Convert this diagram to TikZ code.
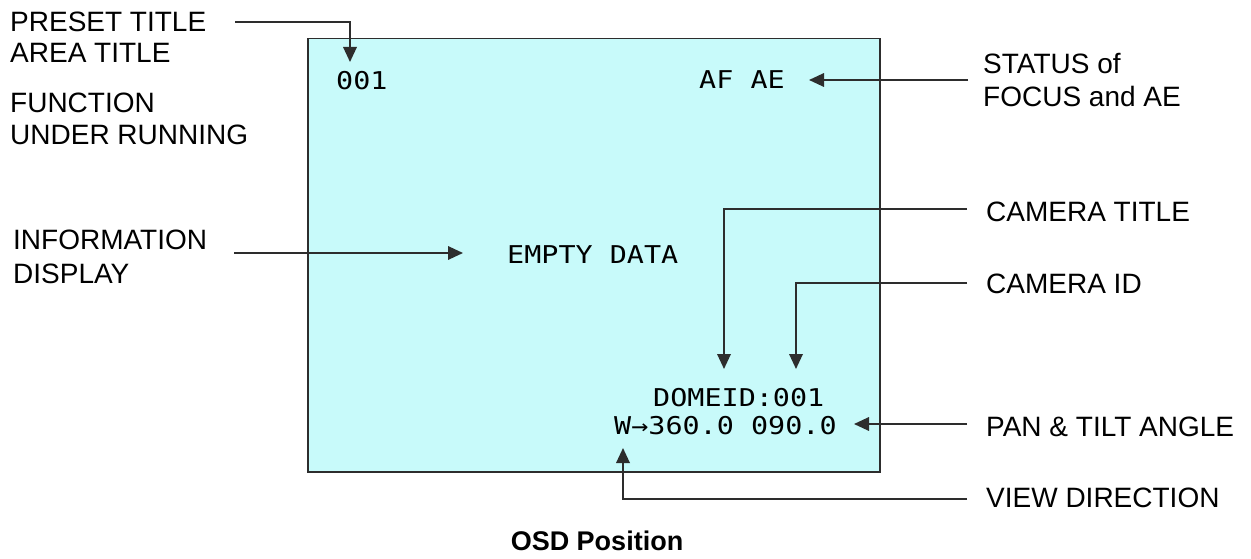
\documentclass[tikz,border=0pt]{standalone}
\usepackage{fontspec}
\setmainfont{Liberation Sans}
\newfontfamily\osdfont{DejaVu Sans Mono}[FakeStretch=1.16]
\usetikzlibrary{arrows.meta}
\definecolor{screen}{RGB}{200,250,250}
\definecolor{ink}{RGB}{45,45,45}
\begin{document}
\begin{tikzpicture}[x=1pt,y=-1pt,
  lbl/.style={anchor=base west,inner sep=0pt,font=\fontsize{28}{32}\selectfont},
  osdtxt/.style={anchor=base west,inner sep=0pt,font=\osdfont\fontsize{24.5}{28}\selectfont,text=black},
  conn/.style={draw=ink,line width=1.8pt,-{Triangle[length=15pt,width=13.5pt]}}]
\useasboundingbox (0,0) rectangle (1251,559);
\fill[white] (0,0) rectangle (1251,559);
\node[draw=ink,line width=1.5pt,fill=screen,minimum width=572pt,minimum height=433pt,anchor=north west,inner sep=0pt] (scr) at (307,38) {};
% labels
\node[lbl] (preset) at (10,32) {PRESET TITLE};
\node[lbl] (area) at (10,63) {AREA TITLE};
\node[lbl] (func) at (10,113) {FUNCTION};
\node[lbl] (under) at (10,145) {UNDER RUNNING};
\node[lbl] (status) at (983,74) {STATUS of};
\node[lbl] (focus) at (983,107) {FOCUS and AE};
\node[lbl] (info) at (13,249) {INFORMATION};
\node[lbl] (disp) at (13,283) {DISPLAY};
\node[lbl] (camt) at (986,222) {CAMERA TITLE};
\node[lbl] (camid) at (986,293) {CAMERA ID};
\node[lbl] (pan) at (986,436) {PAN \& TILT ANGLE};
\node[lbl] (view) at (986,507) {VIEW DIRECTION};
\node[anchor=base,inner sep=0pt,font=\bfseries\fontsize{27}{30}\selectfont] (cap) at (597,550) {OSD Position};
% OSD texts
\node[osdtxt] (t001) at (336,90) {001};
\node[osdtxt] (afae) at (699,89) {AF AE};
\node[osdtxt] (empty) at (507,263) {EMPTY DATA};
\node[osdtxt] (dome) at (653,406) {DOMEID:001};
\node[osdtxt] (pt) at (614,434) {W→360.0 090.0};
% connector ends
\coordinate (pA) at (235,22);   \coordinate (pAt) at (350,62);
\coordinate (sA) at (968,80);   \coordinate (sAt) at (809,80);
\coordinate (iA) at (234,253);  \coordinate (iAt) at (463,253);
\coordinate (cA) at (967,209);  \coordinate (cAt) at (724,369);
\coordinate (dA) at (967,283);  \coordinate (dAt) at (796,369);
\coordinate (nA) at (967,424);  \coordinate (nAt) at (854,424);
\coordinate (vA) at (967,499);  \coordinate (vAt) at (623,448);
\draw[conn] (pA) -| (pAt);
\draw[conn] (sA) -- (sAt);
\draw[conn] (iA) -- (iAt);
\draw[conn] (cA) -| (cAt);
\draw[conn] (dA) -| (dAt);
\draw[conn] (nA) -- (nAt);
\draw[conn] (vA) -| (vAt);
\end{tikzpicture}
\end{document}
